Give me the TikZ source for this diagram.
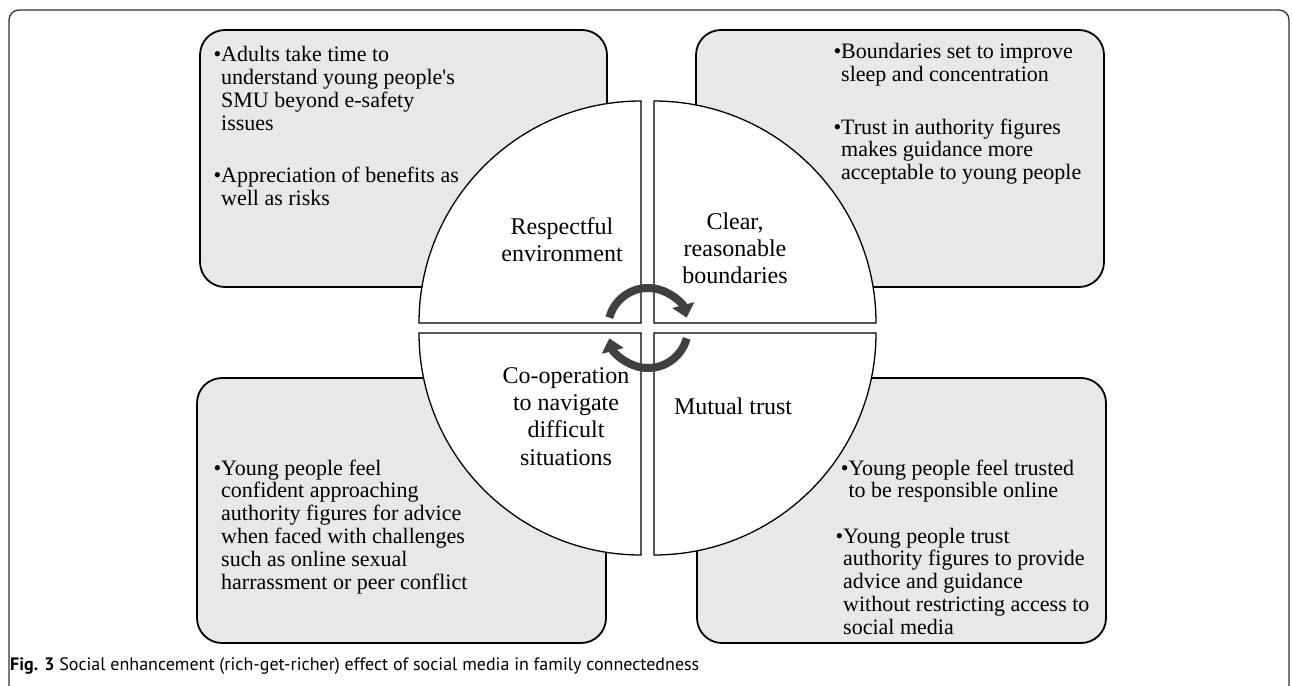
\documentclass[tikz,border=0pt]{standalone}
\usepackage{fontspec}
\setmainfont{Liberation Serif}
\newfontfamily\capfont{PT Sans}
\usetikzlibrary{arrows.meta}
\definecolor{boxgray}{HTML}{E8E8E8}
\definecolor{arrowgray}{HTML}{404040}
\definecolor{framegray}{HTML}{333333}
\begin{document}
\begin{tikzpicture}[x=1pt,y=-1pt,
  panel/.style={draw=black, line width=1.8pt, fill=boxgray, rounded corners=25pt},
  quarter/.style={draw=black, line width=1.3pt, fill=white},
  btext/.style={inner sep=0pt, anchor=north west, align=left, font=\fontsize{22}{22.8}\selectfont},
  qtext/.style={inner sep=0pt, anchor=north, align=center, font=\fontsize{24}{27.4}\selectfont},
  cyc/.style={draw=arrowgray, line width=8pt, -{Triangle[length=13pt,width=22pt]}},
  frameline/.style={draw=framegray, line width=1.3pt, rounded corners=10pt},
]
\useasboundingbox (0,0) rectangle (1292,685);
% outer frame (open at bottom)
\draw[frameline] (9,700) -- (9,10) -- (1289,10) -- (1289,700);

% grey panels
\path[panel] (200,30) rectangle (607,287);
\path[panel] (696,30) rectangle (1104,287);
\path[panel] (197,378) rectangle (606,643);
\path[panel] (697,378) rectangle (1106,643);

% circle quarters
\path[quarter] (641,323) -- ++(-222,0) arc[start angle=180,end angle=270,radius=222] -- cycle;
\path[quarter] (654,323) -- ++(0,-222) arc[start angle=270,end angle=360,radius=222] -- cycle;
\path[quarter] (654,333) -- ++(222,0) arc[start angle=0,end angle=90,radius=222] -- cycle;
\path[quarter] (641,333) -- ++(0,222) arc[start angle=90,end angle=180,radius=222] -- cycle;

% quarter labels
\node[qtext] (qtl) at (562,214.8) {\strut Respectful\\environment};
\node[qtext] (qtr) at (735,209.8) {\strut Clear,\\reasonable\\boundaries};
\node[qtext] (qbl) at (566,363.8) {\strut Co-operation\\to navigate\\difficult\\situations};
\node[qtext] (qbr) at (733,394.8) {\strut Mutual trust};

% cycle arrows
\coordinate (cc) at (648,328);
\draw[cyc] ([shift={(195:40)}]cc) arc[start angle=195,end angle=345,radius=40];
\draw[cyc] ([shift={(15:40)}]cc) arc[start angle=15,end angle=165,radius=40];

% panel texts
\node[btext] (tl1) at (221,45.7) {\strut\llap{\textbullet}Adults take time to\\understand young people\textquotesingle s\\SMU beyond e-safety\\issues};
\node[btext] (tl2) at (221,166.7) {\strut\llap{\textbullet}Appreciation of benefits as\\well as risks};
\node[btext] (tr1) at (841,42.3) {\strut\llap{\textbullet}Boundaries set to improve\\sleep and concentration};
\node[btext] (tr2) at (841,118) {\strut\llap{\textbullet}Trust in authority figures\\makes guidance more\\acceptable to young people};
\node[btext] (bl1) at (221,459) {\strut\llap{\textbullet}Young people feel\\confident approaching\\authority figures for advice\\when faced with challenges\\such as online sexual\\harrassment or peer conflict};
\node[btext] (br1) at (848.3,459) {\strut\llap{\textbullet}Young people feel trusted\\to be responsible online};
\node[btext] (br2) at (843,527) {\strut\llap{\textbullet}Young people trust\\authority figures to provide\\advice and guidance\\without restricting access to\\social media};

% caption
\node[anchor=base west, inner sep=0pt, font=\capfont\fontsize{18}{21}\selectfont] (cap) at (10,670) {\textbf{Fig. 3} Social enhancement (rich-get-richer) effect of social media in family connectedness};
\end{tikzpicture}
\end{document}
